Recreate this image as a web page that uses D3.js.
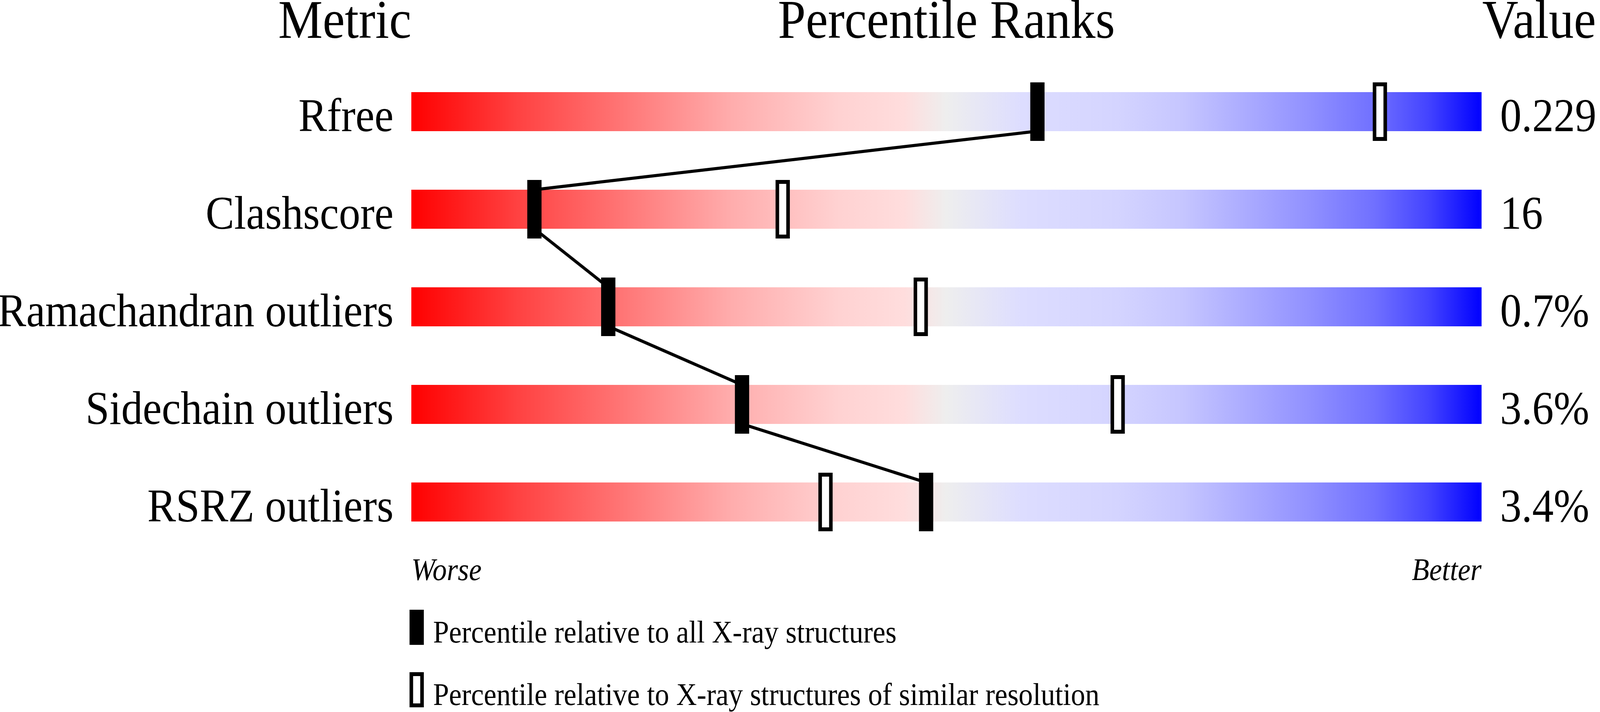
<!DOCTYPE html>
<html>
<head>
<meta charset="utf-8">
<script src="https://cdn.jsdelivr.net/npm/d3@7"></script>
<style>
  html, body { margin: 0; padding: 0; background: #fff; overflow: hidden; }
  svg { display: block; }
  text { font-family: "Liberation Serif", "Times New Roman", serif; fill: #000; }
</style>
</head>
<body>
<svg id="slider"></svg>
<script>
var w = 4485; // Width of the drawing
var h = 1824; // Height of the drawing

// Data
var metrics = ["Rfree", "Clashscore", "Ramachandran outliers", "Sidechain outliers", "RSRZ outliers"];
var values = ["0.229", "16", "0.7%", "3.6%", "3.4%"];
// percentile relative to all X-ray structures (filled marker)
var absPercentile = [58.5, 11.5, 18.4, 30.9, 48.1];
// percentile relative to structures of similar resolution (open marker)
var relPercentile = [90.5, 34.7, 47.6, 66.0, 38.7];
var headers = ["Metric", "Percentile Ranks", "Value"];
var legendLabels = ["Percentile relative to all X-ray structures",
  "Percentile relative to X-ray structures of similar resolution"];

var rows = metrics.map(function(m, i) {
  return { metric: m, value: values[i], abs: absPercentile[i], rel: relPercentile[i] };
});

// fit the drawing to whatever the window really is (it came out 4096 wide)
var vw = window.innerWidth || w;
var vh = window.innerHeight || h;
var svg = d3.select("#slider")
  .attr("width", vw)
  .attr("height", vh)
  .attr("viewBox", "0 0 " + w + " " + h)
  .attr("preserveAspectRatio", "none");

svg.append("rect").attr("width", w).attr("height", h).attr("fill", "white");

// scales
var x = d3.scaleLinear().domain([0, 100]).range([1153, 4153]);
var y = d3.scaleBand().domain(metrics).range([236, 1336]).paddingInner(0.6).paddingOuter(0);

// red - grey - blue gradient
var stops = [
  [0, "#ff0000"], [0.1, "#ff4242"], [0.2, "#ff7777"], [0.3, "#ffadad"],
  [0.4, "#ffd2d2"], [0.46, "#ffdddd"], [0.5, "#eeeeee"], [0.57, "#ddddff"],
  [0.66, "#d4d4ff"], [0.72, "#c6c6ff"], [0.78, "#ababff"], [0.84, "#9090ff"],
  [0.9, "#7070ff"], [0.95, "#4444ff"], [1, "#0000ff"]
];
var grad = svg.append("defs").append("linearGradient")
  .attr("id", "rankGrad")
  .attr("x1", "0%").attr("x2", "100%").attr("y1", "0%").attr("y2", "0%");
grad.selectAll("stop")
  .data(stops)
  .enter()
  .append("stop")
  .attr("offset", function(d) { return d[0] * 100 + "%"; })
  .attr("stop-color", function(d) { return d[1]; });

// headers
svg.append("text")
  .attr("x", x(0)).attr("y", 97)
  .attr("text-anchor", "end")
  .style("font-size", "140px")
  .text(headers[0]);
svg.append("text")
  .attr("x", x(50)).attr("y", 97)
  .attr("text-anchor", "middle")
  .style("font-size", "140px")
  .text(headers[1]);
svg.append("text")
  .attr("x", x(100) + 2).attr("y", 97)
  .attr("text-anchor", "start")
  .style("font-size", "140px")
  .text(headers[2]);

// bars
svg.selectAll(".bar")
  .data(rows)
  .enter()
  .append("rect")
  .attr("class", "bar")
  .attr("x", x(0))
  .attr("y", function(d) { return y(d.metric); })
  .attr("width", x(100) - x(0))
  .attr("height", y.bandwidth())
  .attr("fill", "url(#rankGrad)");

// metric names and values
svg.selectAll(".metric")
  .data(rows)
  .enter()
  .append("text")
  .attr("class", "metric")
  .attr("x", x(0) - 50)
  .attr("y", function(d) { return y(d.metric) + y.bandwidth(); })
  .attr("text-anchor", "end")
  .style("font-size", "120px")
  .text(function(d) { return d.metric; });

svg.selectAll(".value")
  .data(rows)
  .enter()
  .append("text")
  .attr("class", "value")
  .attr("x", x(100) + 52)
  .attr("y", function(d) { return y(d.metric) + y.bandwidth(); })
  .attr("text-anchor", "start")
  .style("font-size", "120px")
  .text(function(d) { return d.value; });

// line joining the filled markers, bottom of one bar to top of the next
var pts = [];
rows.forEach(function(d) {
  pts.push([x(d.abs), y(d.metric)]);
  pts.push([x(d.abs), y(d.metric) + y.bandwidth()]);
});
svg.append("path")
  .attr("d", d3.line()(pts))
  .attr("fill", "none")
  .attr("stroke", "black")
  .attr("stroke-width", 8);

var ext = 25; // marker sticks out of the bar by this much

// open markers
svg.selectAll(".rel")
  .data(rows)
  .enter()
  .append("rect")
  .attr("class", "rel")
  .attr("x", function(d) { return x(d.rel) - 15; })
  .attr("y", function(d) { return y(d.metric) - ext + 5; })
  .attr("width", 30)
  .attr("height", y.bandwidth() + 2 * ext - 10)
  .attr("fill", "white")
  .attr("stroke", "black")
  .attr("stroke-width", 10);

// filled markers
svg.selectAll(".abs")
  .data(rows)
  .enter()
  .append("rect")
  .attr("class", "abs")
  .attr("x", function(d) { return x(d.abs) - 20; })
  .attr("y", function(d) { return y(d.metric) - ext; })
  .attr("width", 40)
  .attr("height", y.bandwidth() + 2 * ext)
  .attr("fill", "black");

// Worse / Better
svg.append("text")
  .attr("x", x(0)).attr("y", 1486)
  .style("font-size", "80px").style("font-style", "italic")
  .text("Worse");
svg.append("text")
  .attr("x", x(100)).attr("y", 1486)
  .attr("text-anchor", "end")
  .style("font-size", "80px").style("font-style", "italic")
  .text("Better");

// legend
svg.append("rect")
  .attr("x", 1148).attr("y", 1562)
  .attr("width", 40).attr("height", 90)
  .attr("fill", "black");
svg.append("rect")
  .attr("x", 1153).attr("y", 1727)
  .attr("width", 30).attr("height", 80)
  .attr("fill", "white")
  .attr("stroke", "black")
  .attr("stroke-width", 10);
svg.selectAll(".legend")
  .data(legendLabels)
  .enter()
  .append("text")
  .attr("class", "legend")
  .attr("x", 1214)
  .attr("y", function(d, i) { return 1646 + i * 160; })
  .style("font-size", "80px")
  .text(function(d) { return d; });
</script>
</body>
</html>
